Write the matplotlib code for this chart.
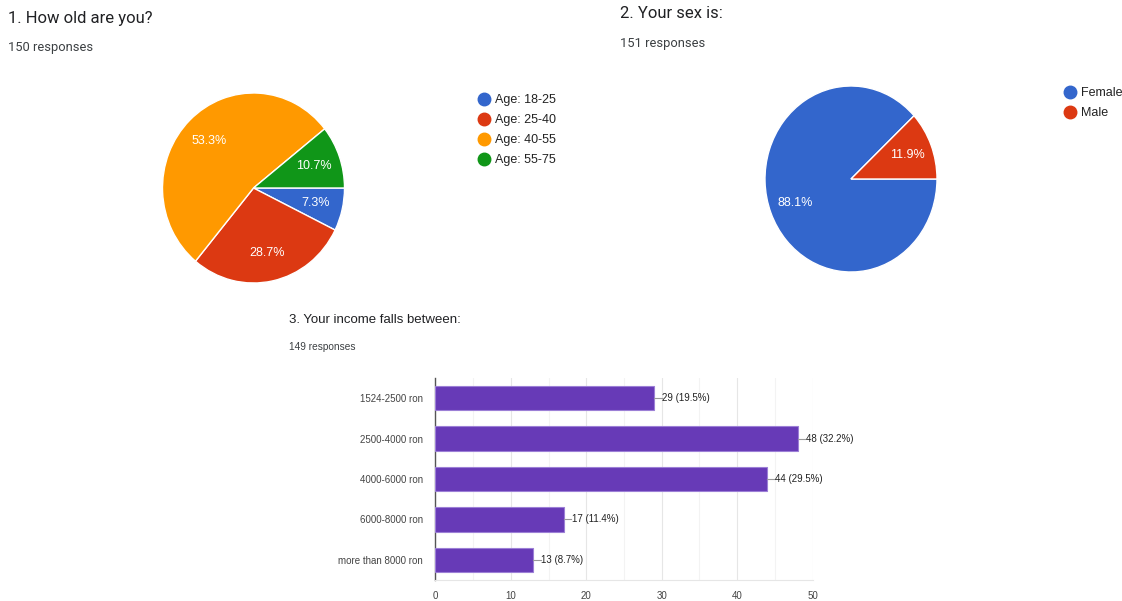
import numpy as np
import matplotlib
matplotlib.use('Agg')
import matplotlib.pyplot as plt
from matplotlib.lines import Line2D
from matplotlib import font_manager

W, H = 1122, 601

# chart 1 data
age_labels = ['Age: 18-25', 'Age: 25-40', 'Age: 40-55', 'Age: 55-75']
age_pct = [7.3, 28.7, 53.3, 10.7]
age_colors = ['#3366cc', '#dc3912', '#ff9900', '#109618']

# chart 2 data
sex_labels = ['Female', 'Male']
sex_pct = [88.1, 11.9]
sex_colors = ['#3366cc', '#dc3912']

# chart 3 data
income_labels = ['1524-2500 ron', '2500-4000 ron', '4000-6000 ron',
                 '6000-8000 ron', 'more than 8000 ron']
income_counts = [29, 48, 44, 17, 13]
income_pct = [19.5, 32.2, 29.5, 11.4, 8.7]
x_ticks = [0, 10, 20, 30, 40, 50]

available = {f.name for f in font_manager.fontManager.ttflist}
head_font = 'Roboto' if 'Roboto' in available else 'DejaVu Sans'
narrow_font = 'Liberation Sans Narrow' if 'Liberation Sans Narrow' in available else 'Liberation Sans'
chart_font = 'Liberation Sans'

fig = plt.figure(figsize=(W / 100, H / 100), dpi=100)
fig.patch.set_facecolor('white')


def px_axes(left, top, width, height):
    # place an axes using pixel coordinates (origin top-left)
    return fig.add_axes([left / W, 1 - (top + height) / H, width / W, height / H])


def px_text(x, y, s, **kw):
    fig.text(x / W, 1 - y / H, s, **kw)


def draw_pie(cx, cy, rx, ry, values, colors):
    ax = px_axes(cx - rx, cy - ry, 2 * rx, 2 * ry)
    ax.pie(values, colors=colors, startangle=0, counterclock=False,
           autopct='%.1f%%', pctdistance=0.7,
           wedgeprops=dict(edgecolor='white', linewidth=1),
           textprops=dict(color='white', fontsize=9, family=chart_font))
    ax.set_aspect('auto')
    ax.set_xlim(-1, 1)
    ax.set_ylim(-1, 1)
    ax.axis('off')
    return ax


def draw_legend(x, y, labels, colors):
    for i, (lab, col) in enumerate(zip(labels, colors)):
        yy = y + i * 20
        fig.add_artist(Line2D([x / W], [1 - yy / H], marker='o', markersize=9,
                              color=col, linestyle='none',
                              transform=fig.transFigure))
        px_text(x + 11, yy + 1, lab, fontsize=9, family=chart_font,
                color='#222222', va='center', ha='left')


# 1. age pie
px_text(8, 19, '1. How old are you?', fontsize=12, family=head_font,
        color='#202124', va='center')
px_text(8, 48, '150 responses', fontsize=9.3, family=head_font,
        color='#3c4043', va='center')
draw_pie(253.5, 188, 91, 95, age_pct, age_colors)
draw_legend(484, 99, age_labels, age_colors)

# 2. sex pie
px_text(620, 14, '2. Your sex is:', fontsize=12, family=head_font,
        color='#202124', va='center')
px_text(620, 43, '151 responses', fontsize=9.3, family=head_font,
        color='#3c4043', va='center')
draw_pie(851, 179, 86, 93, sex_pct, sex_colors)
draw_legend(1070, 92, sex_labels, sex_colors)

# 3. income bars
px_text(289, 320, '3. Your income falls between:', fontsize=9.5,
        family=[narrow_font, 'DejaVu Sans'], color='#202124', va='center')
px_text(289, 347, '149 responses', fontsize=7.3,
        family=[narrow_font, 'DejaVu Sans'], color='#3c4043', va='center')

ax = px_axes(435.3, 378, 812.7 - 435.3, 580 - 378)
ypos = np.arange(len(income_labels))
ax.barh(ypos, income_counts, height=0.6, color='#673ab7',
        edgecolor='#9c7fd6', linewidth=0.8, zorder=3)
for y, c, p in zip(ypos, income_counts, income_pct):
    ax.plot([c, c + 1.0], [y, y], color='#999999', lw=0.8, zorder=3,
            clip_on=False)
    ax.text(c + 1.05, y, f'{c} ({p}%)', fontsize=7,
            family=[narrow_font, 'DejaVu Sans'], color='#222222',
            va='center', ha='left', clip_on=False)
ax.set_xlim(0, 50)
ax.set_ylim(len(income_labels) - 0.5, -0.5)
ax.set_xticks(x_ticks)
ax.set_xticks(np.arange(5, 50, 10), minor=True)
ax.grid(axis='x', which='major', color='#e6e6e6', lw=0.8, zorder=0)
ax.grid(axis='x', which='minor', color='#f3f3f3', lw=0.8, zorder=0)
ax.set_yticks(ypos)
ax.set_yticklabels(income_labels)
ax.tick_params(axis='both', which='both', length=0, labelsize=7, colors='#444444')
ax.tick_params(axis='y', pad=9)
ax.tick_params(axis='x', pad=8)
for lab in ax.get_xticklabels() + ax.get_yticklabels():
    lab.set_family([narrow_font, 'DejaVu Sans'])
for side in ['top', 'right']:
    ax.spines[side].set_visible(False)
ax.spines['bottom'].set_color('#e6e6e6')
ax.spines['left'].set_color('#555555')
ax.spines['left'].set_linewidth(1.0)

fig.savefig('out.png', dpi=100, facecolor='white')
